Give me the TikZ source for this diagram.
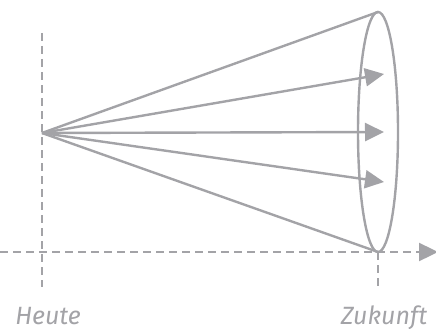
\documentclass[tikz,border=0pt]{standalone}
\usepackage{fontspec}
\setmainfont{Fira Sans}
\usetikzlibrary{arrows.meta}
\definecolor{ln}{HTML}{A3A3A7}
\begin{document}
\begin{tikzpicture}[x=1pt,y=-1pt,
  line/.style={draw=ln,line width=2.4pt},
  dline/.style={draw=ln,line width=2.4pt,dash pattern=on 8pt off 5pt},
  tip/.style={-{Triangle[length=19pt,width=18pt]}},
  lbl/.style={text=ln,font=\fontsize{25}{28}\selectfont\itshape,anchor=base,inner sep=0pt}]
\useasboundingbox (0,0) rectangle (436,329);
\coordinate (O) at (42,133);
\coordinate (C) at (378,132);
\coordinate (T) at (378,12);
\coordinate (B) at (378,252);
\coordinate (A1) at (384,74);
\coordinate (A2) at (384,132);
\coordinate (A3) at (384,182);
\coordinate (Vt) at (42,33);
\coordinate (Vb) at (42,287);
\coordinate (Hl) at (0,252);
\coordinate (Hr) at (438,252);
\coordinate (Zb) at (378,287);
% axes
\draw[dline] (Vt) -- (Vb);
\draw[dline,tip] (Hl) -- (Hr);
\draw[dline] (B) -- (Zb);
% cone
\draw[line] (C) ellipse [x radius=20, y radius=120];
\draw[line] (O) -- (T);
\draw[line] (O) -- (B);
\draw[line,tip] (O) -- (A1);
\draw[line,tip] (O) -- (A2);
\draw[line,tip] (O) -- (A3);
% labels
\node[lbl] (heute) at (48,324) {Heute};
\node[lbl] (zukunft) at (384,324) {Zukunft};
\end{tikzpicture}
\end{document}
